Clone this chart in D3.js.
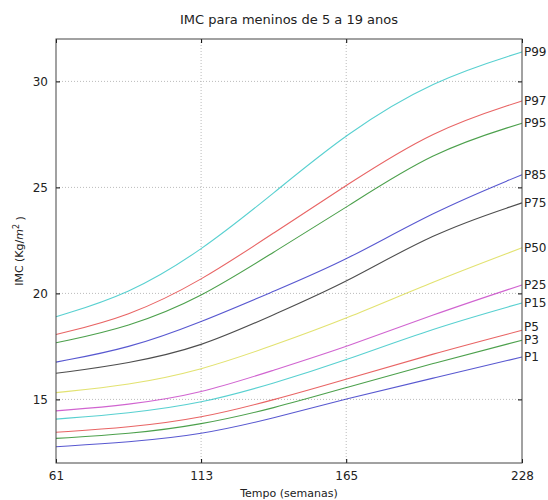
<!DOCTYPE html>
<html>
<head>
<meta charset="utf-8">
<script src="https://cdn.jsdelivr.net/npm/d3@7"></script>
<style>
  body { margin: 0; background: #fff; }
  text { font-family: "DejaVu Sans", sans-serif; fill: #222; }
</style>
</head>
<body>
<div id="chart-container"></div>
<script>
// data (months on x, BMI on y)
const months = [61, 87, 113, 139, 165, 196, 228];
const p1  = [12.77, 12.98, 13.33, 14.11, 15.03, 16.0, 17.0];
const p3  = [13.16, 13.36, 13.8, 14.58, 15.56, 16.7, 17.79];
const p5  = [13.45, 13.67, 14.11, 14.97, 15.95, 17.15, 18.26];
const p15 = [14.07, 14.34, 14.81, 15.75, 16.85, 18.35, 19.55];
const p25 = [14.46, 14.73, 15.28, 16.38, 17.47, 19.0, 20.4];
const p50 = [15.32, 15.67, 16.37, 17.55, 18.8, 20.55, 22.15];
const p75 = [16.23, 16.69, 17.47, 19.0, 20.5, 22.85, 24.27];
const p85 = [16.76, 17.4, 18.64, 20.1, 21.55, 23.85, 25.6];
const p95 = [17.67, 18.4, 19.8, 21.95, 24.05, 26.7, 28.03];
const p97 = [18.06, 18.9, 20.59, 22.85, 25.1, 27.7, 29.08];
const p99 = [18.9, 19.95, 22.0, 24.73, 27.55, 30.05, 31.39];

const seriesNames = ["P1", "P3", "P5", "P15", "P25", "P50", "P75", "P85", "P95", "P97", "P99"];
const seriesValues = [p1, p3, p5, p15, p25, p50, p75, p85, p95, p97, p99];
const xTicks = [61, 113, 165, 228];
const yTicks = [15, 20, 25, 30];

// old matplotlib colour cycle b g r c m y k
const colors = ["#2020c0", "#108010", "#e03030", "#20c0c0", "#c030c0", "#d8d840", "#111111"];

// dimensions and margins
const margin = { top: 39, right: 26, bottom: 37, left: 56 };
const width = 548 - margin.left - margin.right;
const height = 500 - margin.top - margin.bottom;

const xScale = d3.scaleLinear().domain([61, 228]).range([0, width]);
const yScale = d3.scaleLinear().domain([12, 32]).range([height, 0]);

const svg = d3
  .select("#chart-container")
  .append("svg")
  .attr("width", 548)
  .attr("height", 500)
  .append("g")
  .attr("transform", `translate(${margin.left}, ${margin.top})`);

// grid lines
svg
  .append("g")
  .selectAll("line")
  .data(xTicks.slice(1, -1))
  .join("line")
  .attr("x1", (d) => xScale(d))
  .attr("x2", (d) => xScale(d))
  .attr("y1", 0)
  .attr("y2", height)
  .attr("stroke", "#bbb")
  .attr("stroke-dasharray", "1,2");

svg
  .append("g")
  .selectAll("line")
  .data(yTicks)
  .join("line")
  .attr("x1", 0)
  .attr("x2", width)
  .attr("y1", (d) => yScale(d))
  .attr("y2", (d) => yScale(d))
  .attr("stroke", "#bbb")
  .attr("stroke-dasharray", "1,2");

// line generator (smooth spline)
const line = d3
  .line()
  .x((d, i) => xScale(months[i]))
  .y((d) => yScale(d))
  .curve(d3.curveBasis);

svg
  .append("g")
  .selectAll("path")
  .data(seriesValues)
  .join("path")
  .attr("fill", "none")
  .attr("stroke", (d, i) => colors[i % colors.length])
  .attr("stroke-opacity", 0.75)
  .attr("stroke-width", 1.1)
  .attr("d", line);

// labels at the right end of each curve (P5 nudged up a bit, as in the original)
svg
  .append("g")
  .selectAll("text")
  .data(seriesValues)
  .join("text")
  .attr("x", width + 2)
  .attr("y", (d, i) => yScale(d[d.length - 1]) + (seriesNames[i] === "P5" ? -3 : 0))
  .attr("dy", "0.35em")
  .style("font-size", "12px")
  .text((d, i) => seriesNames[i]);

// axes (inward ticks, matplotlib style)
const xAxis = d3.axisBottom(xScale).tickValues(xTicks).tickSize(-4).tickPadding(8).tickFormat(d3.format("d"));
const yAxis = d3.axisLeft(yScale).tickValues(yTicks).tickSize(-4).tickPadding(8);

svg
  .append("g")
  .attr("transform", `translate(0, ${height})`)
  .call(xAxis)
  .call((g) => g.select(".domain").remove())
  .selectAll("text")
  .style("font-size", "12px")
  .style("font-family", "DejaVu Sans, sans-serif")
  .attr("fill", "#222");

svg
  .append("g")
  .call(yAxis)
  .call((g) => g.select(".domain").remove())
  .selectAll("text")
  .style("font-size", "12px")
  .style("font-family", "DejaVu Sans, sans-serif")
  .attr("fill", "#222");

// ticks on top and right side too
svg
  .append("g")
  .call(d3.axisTop(xScale).tickValues(xTicks).tickSize(-4).tickFormat(""))
  .call((g) => g.select(".domain").remove());
svg
  .append("g")
  .attr("transform", `translate(${width}, 0)`)
  .call(d3.axisRight(yScale).tickValues(yTicks).tickSize(-4).tickFormat(""))
  .call((g) => g.select(".domain").remove());

// frame
svg
  .append("rect")
  .attr("width", width)
  .attr("height", height)
  .attr("fill", "none")
  .attr("stroke", "#444")
  .attr("stroke-width", 1);

// title
svg
  .append("text")
  .attr("x", width / 2)
  .attr("y", -15)
  .attr("text-anchor", "middle")
  .style("font-size", "13px")
  .text("IMC para meninos de 5 a 19 anos");

// x label
svg
  .append("text")
  .attr("x", width / 2)
  .attr("y", height + 34)
  .attr("text-anchor", "middle")
  .style("font-size", "11px")
  .text("Tempo (semanas)");

// y label
const yLabel = svg
  .append("text")
  .attr("transform", `translate(${-33}, ${height / 2}) rotate(-90)`)
  .attr("text-anchor", "middle")
  .style("font-size", "11px");
yLabel.append("tspan").text("IMC (Kg/");
yLabel.append("tspan").style("font-style", "italic").text("m");
yLabel.append("tspan").attr("dy", "-0.45em").style("font-size", "8px").text("2");
yLabel.append("tspan").attr("dy", "0.45em").text(" )");
</script>
</body>
</html>
